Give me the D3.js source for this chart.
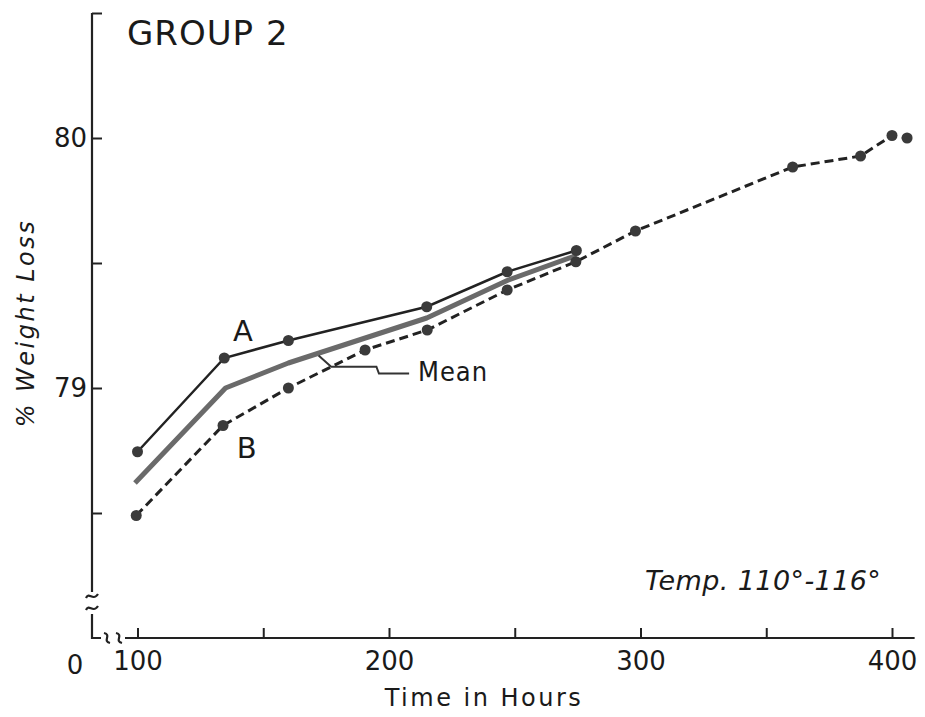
<!DOCTYPE html>
<head>
  <meta charset="utf-8">
  <style>
    body { margin: 0; background: #fff; }
    svg text { font-family: "DejaVu Sans", sans-serif; fill: #1a1a1a; }
    svg .tick text { font-size: 26px; }
    svg .tick line { stroke: #222; stroke-width: 2px; }
    svg .domain { display: none; }
  </style>
</head>
<body>
<script src="https://d3js.org/d3.v7.min.js"></script>
<script>
  // curve A (solid), curve B (dashed), mean (grey, no points)
  var timeA = [100, 134.5, 160, 215, 247, 274.5];
  var pctA  = [78.745, 79.12, 79.19, 79.325, 79.465, 79.55];

  var timeB = [99.5, 134, 160, 190.5, 215.2, 247, 274.3, 298, 360.5, 387.5, 400, 406];
  var pctB  = [78.49, 78.85, 79.0, 79.152, 79.232, 79.392, 79.505, 79.628, 79.884, 79.928, 80.01, 80.0];

  var timeMean = [99, 135, 160, 215, 247, 274.5];
  var pctMean  = [78.62, 79.0, 79.1, 79.28, 79.43, 79.53];

  // leader line from the mean curve to its label
  var leaderT = [172, 177, 195, 196, 208];
  var leaderP = [79.13, 79.085, 79.085, 79.058, 79.058];

  var xTicks = [100, 150, 200, 250, 300, 350, 400];
  var xLabels = [100, 200, 300, 400];
  var yTicks = [78.5, 79, 79.5, 80, 80.5];
  var yLabels = [79, 80];

  var width = 925, height = 717;

  var svg = d3.select("body")
    .append("svg")
      .attr("width", width)
      .attr("height", height);

  var xScale = d3.scaleLinear().domain([100, 400]).range([137.5, 892]);
  var yScale = d3.scaleLinear().domain([79, 80]).range([388, 138]);

  var axisX = 92,            // pixel position of the y axis line
      axisY = yScale(78.0);  // pixel position of the x axis line

  // x axis, ticks pointing up
  var xAxis = d3.axisBottom(xScale)
    .tickValues(xTicks)
    .tickSizeInner(-10)
    .tickSizeOuter(0)
    .tickPadding(14)
    .tickFormat(function (d) { return xLabels.indexOf(d) >= 0 ? d : ""; });

  svg.append("g")
      .attr("transform", "translate(0," + axisY + ")")
      .call(xAxis);

  // y axis, ticks pointing right
  var yAxis = d3.axisLeft(yScale)
    .tickValues(yTicks)
    .tickSizeInner(-10)
    .tickSizeOuter(0)
    .tickPadding(5)
    .tickFormat(function (d) { return yLabels.indexOf(d) >= 0 ? d : ""; });

  svg.append("g")
      .attr("transform", "translate(" + axisX + ",0)")
      .call(yAxis);

  // axis lines drawn by hand so they can carry the break marks
  var axisLine = svg.append("g")
      .style("stroke", "#222")
      .style("stroke-width", "2.2px")
      .style("fill", "none");

  var yTop = yScale(80.5), yBreak = axisY - 46;
  axisLine.append("path")
      .attr("d", "M" + axisX + "," + yTop + "V" + yBreak);
  axisLine.append("path")
      .attr("d", "M" + axisX + "," + (yBreak + 22) + "V" + axisY + "H" + (axisX + 9));
  [yBreak + 4, yBreak + 16].forEach(function (y) {
    axisLine.append("path")
        .attr("d", "M" + (axisX - 6) + "," + (y + 2) +
          "C" + (axisX - 3) + "," + (y - 5) + " " + (axisX + 1) + "," + (y + 6) + " " + (axisX + 6) + "," + (y - 2));
  });
  var xStart = axisX + 33;
  [axisX + 15, axisX + 27].forEach(function (x) {
    axisLine.append("path")
        .attr("d", "M" + (x - 3) + "," + (axisY - 5) +
          "C" + (x + 5) + "," + (axisY - 3) + " " + (x - 5) + "," + (axisY + 3) + " " + (x + 3) + "," + (axisY + 5));
  });
  axisLine.append("path")
      .attr("d", "M" + xStart + "," + axisY + "H" + xScale(409));

  // "0" at the origin
  svg.append("text")
      .attr("x", axisX - 17)
      .attr("y", axisY + 36)
      .style("font-size", "26px")
      .style("text-anchor", "middle")
      .text("0");

  // axis titles
  svg.append("text")
      .attr("x", 484)
      .attr("y", 706)
      .style("font-size", "24px")
      .style("letter-spacing", "2.5px")
      .style("text-anchor", "middle")
      .text("Time in Hours");

  svg.append("text")
      .attr("transform", "translate(34,323) rotate(-90)")
      .style("font-size", "24px")
      .style("font-style", "italic")
      .style("letter-spacing", "2.5px")
      .style("text-anchor", "middle")
      .text("% Weight Loss");

  svg.append("text")
      .attr("x", 127)
      .attr("y", 45)
      .style("font-size", "34px")
      .style("letter-spacing", "1px")
      .text("GROUP 2");

  svg.append("text")
      .attr("x", 645)
      .attr("y", 590)
      .style("font-size", "27px")
      .style("font-style", "italic")
      .style("letter-spacing", "0.4px")
      .text("Temp. 110°-116°");

  // curves
  var line = d3.line()
    .x(function (d) { return xScale(d[0]); })
    .y(function (d) { return yScale(d[1]); });

  var dataA = d3.zip(timeA, pctA),
      dataB = d3.zip(timeB, pctB),
      dataMean = d3.zip(timeMean, pctMean),
      leader = d3.zip(leaderT, leaderP);

  svg.append("path")
      .datum(dataMean)
      .attr("d", line)
      .style("fill", "none")
      .style("stroke", "#6a6a6a")
      .style("stroke-width", "5px")
      .style("stroke-linejoin", "round");

  svg.append("path")
      .datum(dataB)
      .attr("d", line)
      .style("fill", "none")
      .style("stroke", "#222")
      .style("stroke-width", "3px")
      .style("stroke-dasharray", "9,5");

  svg.append("path")
      .datum(dataA)
      .attr("d", line)
      .style("fill", "none")
      .style("stroke", "#222")
      .style("stroke-width", "2.5px");

  svg.append("g").selectAll("circle")
      .data(dataA.concat(dataB))
    .enter().append("circle")
      .attr("cx", function (d) { return xScale(d[0]); })
      .attr("cy", function (d) { return yScale(d[1]); })
      .attr("r", 5.5)
      .style("fill", "#3a3a3a");

  // mean label and its leader
  svg.append("path")
      .datum(leader)
      .attr("d", line)
      .style("fill", "none")
      .style("stroke", "#333")
      .style("stroke-width", "2px");

  svg.append("text")
      .attr("x", xScale(211.5))
      .attr("y", yScale(79.03))
      .style("font-size", "27px")
      .style("font-stretch", "condensed")
      .style("letter-spacing", "1px")
      .text("Mean");

  svg.append("text")
      .attr("x", xScale(138))
      .attr("y", yScale(79.19))
      .style("font-size", "29px")
      .text("A");

  svg.append("text")
      .attr("x", xScale(139.5))
      .attr("y", yScale(78.72))
      .style("font-size", "29px")
      .text("B");
</script>
</body>
</html>
